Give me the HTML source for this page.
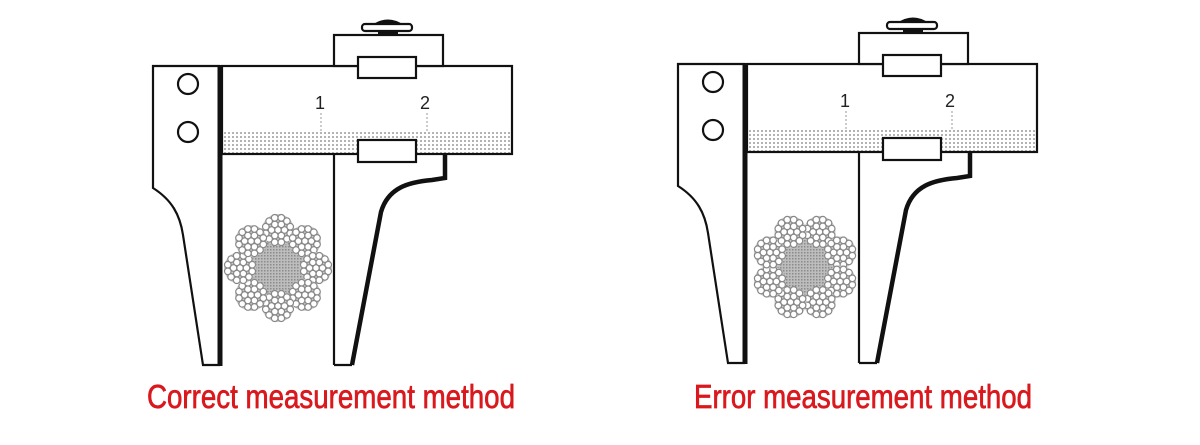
<!DOCTYPE html>
<html><head><meta charset="utf-8"><style>
html,body{margin:0;padding:0;background:#fff;width:1200px;height:445px;overflow:hidden}
</style></head><body>
<svg id="s" width="1200" height="445" viewBox="0 0 1200 445" xmlns="http://www.w3.org/2000/svg">
<defs>
<pattern id="dots" width="4" height="4" patternUnits="userSpaceOnUse">
<rect width="4" height="4" fill="#fff"/>
<rect x="0" y="0" width="2" height="2" fill="#999"/>
</pattern>
<pattern id="core" width="3" height="3" patternUnits="userSpaceOnUse">
<rect width="3" height="3" fill="#bdbdbd"/>
<rect width="1.5" height="1.5" fill="#8a8a8a"/>
</pattern>
<g id="cal" fill="none" stroke="#111">
<rect x="222" y="131" width="290" height="23" fill="url(#dots)" stroke="none" opacity="0.75"/>
<rect x="222" y="66" width="290" height="88" stroke-width="2.2"/>
<rect x="334" y="35" width="109" height="31" fill="#fff" stroke-width="2.2"/>
<rect x="378" y="29" width="20" height="7" fill="#111" stroke="none"/>
<path d="M372,25 Q388,14 404,25 Z" fill="#111" stroke="none"/>
<rect x="362" y="24" width="50" height="7" rx="3" fill="#fff" stroke-width="2.2"/>
<rect x="358" y="57" width="58" height="21" fill="#fff" stroke-width="2.2"/>
<rect x="358" y="140" width="58" height="22" fill="#fff" stroke-width="2.2"/>
<line x1="321" y1="113" x2="321" y2="131" stroke="#999" stroke-width="1" stroke-dasharray="2,2"/>
<line x1="427" y1="113" x2="427" y2="131" stroke="#999" stroke-width="1" stroke-dasharray="2,2"/>
<text x="320" y="109" font-family="Liberation Sans, sans-serif" font-size="18" fill="#222" stroke="none" text-anchor="middle">1</text>
<text x="425" y="109" font-family="Liberation Sans, sans-serif" font-size="18" fill="#222" stroke="none" text-anchor="middle">2</text>
<path d="M220,66 L153,66 L153,188 C172,200 180,215 183,235 L203,365 L220,365" fill="#fff" stroke-width="2.2"/>
<line x1="220" y1="65" x2="220" y2="366" stroke-width="5"/>
<circle cx="188" cy="84" r="10" stroke-width="2.2"/>
<circle cx="188" cy="132" r="10" stroke-width="2.2"/>
<line x1="334" y1="154" x2="334" y2="365" stroke-width="2.2"/>
<line x1="334" y1="365" x2="352" y2="365" stroke-width="2.2"/>
<path d="M445,154 L445,178 L432,180 C408,182 388,188 381,212 L352,365" stroke-width="4.5"/>
</g>
</defs>
<use href="#cal"/>
<use href="#cal" transform="translate(525,-2)"/>
<g id="ropes"></g>
<text x="331" y="408" font-family="'Liberation Sans Narrow','Liberation Sans',sans-serif" font-size="33" fill="#d9191e" stroke="#d9191e" stroke-width="0.7" text-anchor="middle" textLength="368" lengthAdjust="spacingAndGlyphs">Correct measurement method</text>
<text x="863" y="408" font-family="'Liberation Sans Narrow','Liberation Sans',sans-serif" font-size="33" fill="#d9191e" stroke="#d9191e" stroke-width="0.7" text-anchor="middle" textLength="338" lengthAdjust="spacingAndGlyphs">Error measurement method</text>
</svg>
<script>
(function(){
var g=document.getElementById('ropes'),out='';
function c(x,y,r,f,s,w){out+='<circle cx="'+x.toFixed(1)+'" cy="'+y.toFixed(1)+'" r="'+r+'" fill="'+f+'" stroke="'+s+'" stroke-width="'+w+'"/>';}
function rope(cx,cy,rot){
 var i,j,a;
 var pts=[];for(i=0;i<8;i++){a=(i*45+22.5+rot)*Math.PI/180;pts.push((cx+31*Math.sin(a)).toFixed(1)+','+(cy-31*Math.cos(a)).toFixed(1));}
 out+='<polygon points="'+pts.join(' ')+'" fill="url(#core)"/>';
 for(i=0;i<8;i++){
  a=(i*45+rot)*Math.PI/180;
  var sx=cx+38*Math.sin(a),sy=cy-38*Math.cos(a);
  c(sx,sy,16,'#c8c8c8','none',0);
  c(sx,sy,3.3,'#fff','#888',1.2);
  for(j=0;j<6;j++){var b=j*Math.PI/3;c(sx+6.5*Math.cos(b),sy+6.5*Math.sin(b),3.3,'#fff','#888',1.2);}
  for(j=0;j<12;j++){var b=(j+0.5)*Math.PI/6;c(sx+12.6*Math.cos(b),sy+12.6*Math.sin(b),3.3,'#fff','#888',1.2);}
 }
}
rope(278,268,0);
rope(805,267,22.5);
g.innerHTML=out;
})();
</script>
</body></html>
